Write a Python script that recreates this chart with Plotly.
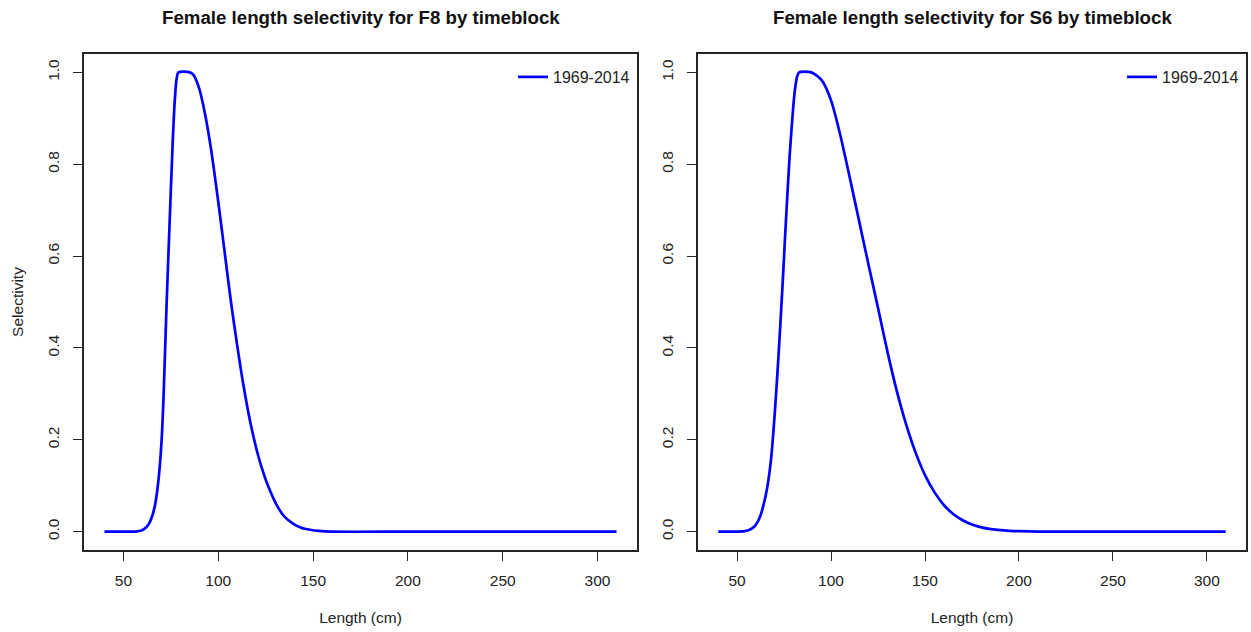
import plotly.graph_objects as go

# ---- data ----
f8_length = [40, 50, 56, 59, 61, 63.3, 65, 66.5, 68, 69.5, 70.4, 71.2, 72.8, 74.5, 76, 77, 78, 79,
             85, 87, 90, 93, 96.3, 100, 103.5, 106.7, 110, 113.3, 117, 121.2, 123.8, 126.5,
             130.9, 135, 139.6, 144, 148.4, 153, 160, 200, 250, 310]
f8_sel = [0, 0, 0, 0.002, 0.006, 0.016, 0.032, 0.055, 0.095, 0.16, 0.22, 0.30, 0.50, 0.69, 0.85,
          0.935, 0.985, 1.0, 1.0, 0.994, 0.964, 0.91, 0.83, 0.718, 0.604, 0.50, 0.405, 0.318,
          0.236, 0.163, 0.128, 0.097, 0.057, 0.032, 0.017, 0.008, 0.004, 0.0015, 0, 0, 0, 0]

s6_length = [40, 50, 54, 56, 58, 60, 62, 64, 66, 68, 70, 72, 74, 76, 78, 80, 81, 82, 83,
             89.5, 95, 100, 105, 110, 115, 120, 125, 130, 135, 140, 145, 150, 155, 160,
             165, 170, 175, 180, 185, 190, 195, 200, 210, 250, 310]
s6_sel = [0, 0, 0.001, 0.003, 0.007, 0.015, 0.030, 0.057, 0.095, 0.155, 0.255, 0.38, 0.522,
          0.678, 0.82, 0.931, 0.969, 0.992, 1.0,
          1.0, 0.983, 0.939, 0.862, 0.77, 0.675, 0.58, 0.487, 0.392, 0.306, 0.233, 0.172,
          0.123, 0.086, 0.058, 0.0385, 0.0247, 0.0153, 0.0093, 0.0055, 0.0031, 0.0017,
          0.0009, 0.0002, 0, 0]

series_name = "1969-2014"
titles = ["Female length selectivity for F8 by timeblock",
          "Female length selectivity for S6 by timeblock"]
x_ticks = [50, 100, 150, 200, 250, 300]
y_ticks = [0.0, 0.2, 0.4, 0.6, 0.8, 1.0]
y_ticktext = ["0.0", "0.2", "0.4", "0.6", "0.8", "1.0"]

W, H = 1251, 632
FONT = "Liberation Sans, Arial, sans-serif"
BLUE = "#0000FF"
AX = "#262626"

fig = go.Figure()
fig.add_trace(go.Scatter(x=f8_length, y=f8_sel, mode="lines", name=series_name,
                         line=dict(color=BLUE, width=2.7, shape="spline", smoothing=0.7),
                         xaxis="x", yaxis="y", legend="legend"))
fig.add_trace(go.Scatter(x=s6_length, y=s6_sel, mode="lines", name=series_name,
                         line=dict(color=BLUE, width=2.7, shape="spline", smoothing=0.7),
                         xaxis="x2", yaxis="y2", legend="legend2"))

x_rng = [40 - 0.04 * 270, 310 + 0.04 * 270]
y_rng = [-0.04, 1.04]

dom_left = [84 / W, 637 / W]
dom_right = [698 / W, 1246 / W]
dom_y = [(H - 550) / H, (H - 54) / H]

def xaxis(domain, anchor):
    return dict(domain=domain, anchor=anchor, range=x_rng, tickvals=x_ticks,
                showline=True, mirror=True, linecolor=AX, linewidth=1.5,
                ticks="outside", ticklen=9, tickwidth=1.3, tickcolor=AX,
                showgrid=False, zeroline=False, ticklabelstandoff=7,
                tickfont=dict(family=FONT, size=15.5, color="#222"),
                title=dict(text="Length (cm)", standoff=24,
                           font=dict(family=FONT, size=15.5, color="#222")))

def yaxis(domain, anchor, title):
    return dict(domain=domain, anchor=anchor, range=y_rng, tickvals=y_ticks,
                ticktext=y_ticktext, tickangle=-90,
                showline=True, mirror=True, linecolor=AX, linewidth=1.5,
                ticks="outside", ticklen=9, tickwidth=1.3, tickcolor=AX,
                showgrid=False, zeroline=False, ticklabelstandoff=8,
                tickfont=dict(family=FONT, size=15.5, color="#222"),
                title=dict(text=title, standoff=18,
                           font=dict(family=FONT, size=15.5, color="#222")))

fig.update_layout(
    width=W, height=H,
    margin=dict(l=0, r=0, t=0, b=0),
    paper_bgcolor="white", plot_bgcolor="white",
    xaxis=xaxis(dom_left, "y"),
    yaxis=yaxis(dom_y, "x", "Selectivity"),
    xaxis2=xaxis(dom_right, "y2"),
    yaxis2=yaxis(dom_y, "x2", ""),
    legend=dict(x=dom_left[1] - 2 / W, y=dom_y[1] - 6 / H, xanchor="right", yanchor="top",
                bgcolor="rgba(0,0,0,0)", font=dict(family=FONT, size=16, color="#222")),
    legend2=dict(x=dom_right[1] - 2 / W, y=dom_y[1] - 6 / H, xanchor="right", yanchor="top",
                 bgcolor="rgba(0,0,0,0)", font=dict(family=FONT, size=16, color="#222")),
    showlegend=True,
)

for i, t in enumerate(titles):
    dom = dom_left if i == 0 else dom_right
    fig.add_annotation(text="<b>" + t + "</b>", x=(dom[0] + dom[1]) / 2, y=1 - 17 / H,
                       xref="paper", yref="paper", xanchor="center", yanchor="middle",
                       showarrow=False, font=dict(family=FONT, size=18.7, color="#111"))

fig.write_html("out.html")
